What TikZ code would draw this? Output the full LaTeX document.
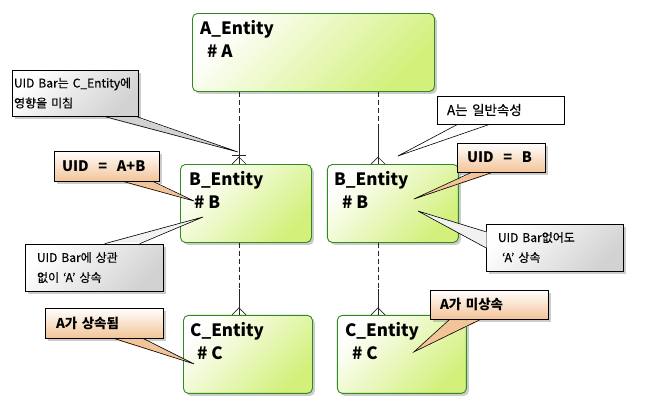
\documentclass[tikz,border=0pt]{standalone}
\usepackage{fontspec}
\setmainfont{Noto Sans CJK KR}
\newfontfamily\notefont[FakeBold=0.4]{Noto Sans CJK KR}
\usepackage{tikz}
\usetikzlibrary{positioning,shapes,shadows}

\definecolor{entline}{RGB}{46,139,30}
\definecolor{entfill}{RGB}{210,240,122}
\definecolor{notefill}{RGB}{210,210,210}
\definecolor{tipfill}{RGB}{243,196,152}

\begin{document}
\begin{tikzpicture}[x=1pt, y=-1pt,
    ent/.style={%
      rectangle, rounded corners=5pt, draw=entline, line width=0.9pt,
      top color=white, bottom color=entfill, shading angle=45,
      drop shadow={shadow xshift=2.5pt, shadow yshift=-2.5pt, fill=black!40},
      inner sep=0pt, minimum width=131pt, minimum height=78pt
    },
    etxt/.style={%
      anchor=north west, align=left, inner sep=0pt,
      font=\fontsize{17}{23}\selectfont\bfseries
    },
    note/.style={%
      rectangle, draw=black, line width=0.6pt,
      top color=white, bottom color=notefill, shading angle=45,
      drop shadow={shadow xshift=2.5pt, shadow yshift=-2.5pt, fill=black!40},
      align=left, inner ysep=0pt, font=\notefont\fontsize{12}{20}\selectfont
    },
    tip/.style={%
      note, bottom color=tipfill, font=\fontsize{14.5}{18}\selectfont\bfseries
    },
    plain/.style={%
      rectangle, draw=black, line width=0.6pt, fill=white,
      align=left, inner ysep=0pt, font=\notefont\fontsize{13.5}{18}\selectfont
    },
    wedge/.style={draw=black, line width=0.6pt},
    rdash/.style={draw=black!85, line width=0.7pt, dash pattern=on 5pt off 3pt},
    rline/.style={draw=black!85, line width=0.7pt}
]
    \useasboundingbox (0,0) rectangle (645,408);

    % entities
    \node[ent, minimum width=242pt, anchor=north west] (A) at (192,13) {};
    \node[ent, anchor=north west] (B1) at (180,164) {};
    \node[ent] (B2) [right=15pt of B1] {};
    \node[ent, minimum width=129pt] (C1) [below=72pt of B1, xshift=2pt] {};
    \node[ent, minimum width=129pt] (C2) [right=24pt of C1] {};

    \node[etxt] (At)  at ([shift={(8,7)}]A.north west)  {A\_Entity\\\hspace*{7pt}\# A};
    \node[etxt] (B1t) at ([shift={(9,7)}]B1.north west) {B\_Entity\\\hspace*{5pt}\# B};
    \node[etxt] (B2t) at ([shift={(7,7)}]B2.north west) {B\_Entity\\\hspace*{8pt}\# B};
    \node[etxt] (C1t) at ([shift={(7,7)}]C1.north west) {C\_Entity\\\hspace*{7pt}\# C};
    \node[etxt] (C2t) at ([shift={(8,7)}]C2.north west) {C\_Entity\\\hspace*{7pt}\# C};

    % relationships
    \coordinate (L) at (239,0);
    \coordinate (R) at (378,0);
    \coordinate (bl) at (B1.north -| L);
    \coordinate (br) at (B2.north -| R);
    \coordinate (cl) at (C1.north -| L);
    \coordinate (cr) at (C2.north -| R);

    \draw[rdash] (A.south -| L) -- ([yshift=37pt]bl);
    \draw[rline] ([yshift=37pt]bl) -- (bl);
    \draw[rline] ([shift={(-7,-9)}]bl) -- ++(14,0);
    \draw[rline] ([xshift=-7pt]bl) -- ([yshift=7pt]bl) -- ([xshift=7pt]bl);

    \draw[rdash] (A.south -| R) -- ([yshift=37pt]br);
    \draw[rline] ([yshift=37pt]br) -- (br);
    \draw[rline] ([xshift=-7pt]br) -- ([yshift=7pt]br) -- ([xshift=7pt]br);

    \draw[rdash] (B1.south -| L) -- ([yshift=26pt]cl);
    \draw[rline] ([yshift=26pt]cl) -- (cl);
    \draw[rline] ([xshift=-7pt]cl) -- ([yshift=7pt]cl) -- ([xshift=7pt]cl);

    \draw[rdash] (B2.south -| R) -- ([yshift=26pt]cr);
    \draw[rline] ([yshift=26pt]cr) -- (cr);
    \draw[rline] ([xshift=-7pt]cr) -- ([yshift=7pt]cr) -- ([xshift=7pt]cr);

    % notes
    \coordinate (t1) at ([shift={(58,-12)}]B1.north west);
    \coordinate (t2) at ([shift={(71,-8)}]B2.north west);
    \coordinate (t3) at ([shift={(14,37)}]B1.north west);
    \coordinate (t4) at ([shift={(87,35)}]B2.north west);
    \coordinate (t5) at ([shift={(23,53)}]B1.north west);
    \coordinate (t6) at ([shift={(91,47)}]B2.north west);
    \coordinate (t7) at ([shift={(11,49)}]C1.north west);
    \coordinate (t8) at ([shift={(77,37)}]C2.north west);

    \node[note, inner xsep=2pt, text width=122pt, minimum height=46pt]
          (n1) at (75,93) {UID Bar는 C\_Entity에\\영향을 미침};
    \fill[notefill] ([shift={(92,1)}]n1.south west) -- (t1) -- ([shift={(124,1)}]n1.south west) -- cycle;
    \draw[wedge] ([xshift=92pt]n1.south west) -- (t1) -- ([xshift=124pt]n1.south west);

    \node[plain, inner xsep=10pt, text width=107pt, minimum height=28pt]
          (n2) at (500.5,110) {A는 일반속성};
    \fill[white] ([shift={(21,1)}]n2.south west) -- (t2) -- ([shift={(53,1)}]n2.south west) -- cycle;
    \draw[wedge] ([xshift=21pt]n2.south west) -- (t2) -- ([xshift=53pt]n2.south west);

    \node[tip, inner xsep=8pt, text width=89pt, minimum height=30pt]
          (n3) at (106.5,166) {UID~~=~~A+B};
    \fill[tipfill] ([shift={(69,1)}]n3.south west) -- (t3) -- ([shift={(99,1)}]n3.south west) -- cycle;
    \draw[wedge] ([xshift=69pt]n3.south west) -- (t3) -- ([xshift=99pt]n3.south west);

    \node[tip, inner xsep=10pt, text width=68pt, minimum height=29pt]
          (n4) at (501,157.5) {UID~~=~~B};
    \fill[tipfill] ([shift={(15,1)}]n4.south west) -- (t4) -- ([shift={(36,1)}]n4.south west) -- cycle;
    \draw[wedge] ([xshift=15pt]n4.south west) -- (t4) -- ([xshift=36pt]n4.south west);

    \node[note, inner xsep=12pt, text width=114pt, minimum height=47pt]
          (n5) at (94,267.5) {UID Bar에 상관\\없이 ‘A’ 상속};
    \fill[white!70!notefill] ([shift={(80,-1)}]n5.north west) -- (t5) -- ([shift={(115,-1)}]n5.north west) -- cycle;
    \draw[wedge] ([xshift=80pt]n5.north west) -- (t5) -- ([xshift=115pt]n5.north west);

    \node[note, inner xsep=12pt, text width=113pt, minimum height=47pt]
          (n6) at (554.5,247.5) {UID Bar없어도\\\hspace*{4pt}‘A’ 상속};
    \fill[white!70!notefill] ([shift={(1,8)}]n6.north west) -- (t6) -- ([shift={(1,24)}]n6.north west) -- cycle;
    \draw[wedge] ([yshift=-8pt]n6.north west) -- (t6) -- ([yshift=-24pt]n6.north west);

    \node[tip, inner xsep=11pt, text width=96pt, minimum height=30pt,
          font=\fontsize{13.5}{18}\selectfont\bfseries]
          (n7) at (104,323) {A가 상속됨};
    \fill[tipfill] ([shift={(69,1)}]n7.south west) -- (t7) -- ([shift={(98,1)}]n7.south west) -- cycle;
    \draw[wedge] ([xshift=69pt]n7.south west) -- (t7) -- ([xshift=98pt]n7.south west);

    \node[tip, inner xsep=10pt, text width=98pt, minimum height=29pt,
          font=\fontsize{13.5}{18}\selectfont\bfseries]
          (n8) at (489,304.5) {A가 미상속};
    \fill[tipfill] ([shift={(20,1)}]n8.south west) -- (t8) -- ([shift={(51,1)}]n8.south west) -- cycle;
    \draw[wedge] ([xshift=20pt]n8.south west) -- (t8) -- ([xshift=51pt]n8.south west);

\end{tikzpicture}
\end{document}
